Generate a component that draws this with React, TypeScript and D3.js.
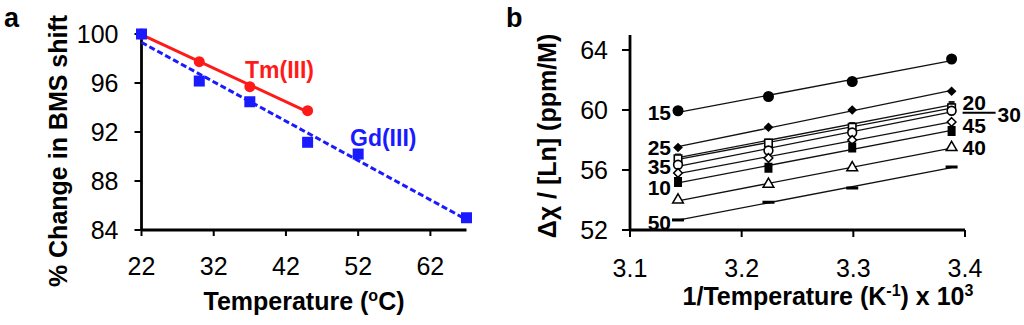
import * as d3 from 'd3'

// panel a: % change in BMS shift vs temperature
const tmTemps = [22, 30, 37, 45]
const tmShift = [100, 97.74, 95.7, 93.74]
const gdTemps = [22, 30, 37, 45, 52, 67]
const gdShift = [100, 96.16, 94.47, 91.16, 90.2, 85]
const aXTicks = [22, 32, 42, 52, 62]
const aYTicks = [84, 88, 92, 96, 100]

// panel b: dchi/[Ln] vs 1/T, one series per label
const invTemp = [3.143, 3.224, 3.299, 3.388]
const seriesLabels = ['15', '25', '20', '30', '35', '45', '10', '40', '50']
const seriesValues = [
  [59.95, 60.9, 61.9, 63.4],
  [57.5, 58.85, 60.0, 61.25],
  [56.9, 57.9, 59.0, 60.4],
  [56.75, 57.8, 58.85, 60.15],
  [56.35, 57.3, 58.5, 59.95],
  [55.8, 56.8, 58.0, 59.2],
  [55.2, 56.15, 57.5, 58.6],
  [54.0, 55.05, 56.15, 57.5],
  [52.67, 53.85, 54.8, 56.2],
]
const bXTicks = [3.1, 3.2, 3.3, 3.4]
const bYTicks = [52, 56, 60, 64]

// marker + label placement per series (style, not data)
const markerKind = ['circle', 'diamond', 'smallSquare', 'openSquare', 'openCircle', 'openDiamond', 'square', 'openTriangle', 'dash']
const labelSide = ['left', 'left', 'right', 'right', 'left', 'right', 'left', 'right', 'left']
const labelDx = [0, 0, 0, 35, 0, 0, 0, 0, 0]
const labelDy = [2, 0, -2, 7, 2, 3, 5, 0, 2]

const FONT = "'Liberation Sans', Arial, sans-serif"

function fit(xs: number[], ys: number[]) {
  const mx = d3.mean(xs)!
  const my = d3.mean(ys)!
  const sxy = d3.sum(xs, (x, i) => (x - mx) * (ys[i] - my))
  const sxx = d3.sum(xs, x => (x - mx) ** 2)
  const slope = sxy / sxx
  return (x: number) => my + slope * (x - mx)
}

const Marker = ({ kind, x, y }: { kind: string; x: number; y: number }) => {
  const t = `translate(${x},${y})`
  const sym = (type: d3.SymbolType, size: number) => d3.symbol().type(type).size(size)()!
  switch (kind) {
    case 'circle':
      return <path d={sym(d3.symbolCircle, 95)} transform={t} fill="#000" />
    case 'diamond':
      return <path d={sym(d3.symbolDiamond2, 60)} transform={t} fill="#000" />
    case 'smallSquare':
      return <path d={sym(d3.symbolSquare, 36)} transform={t} fill="#222" />
    case 'openSquare':
      return <path d={sym(d3.symbolSquare, 56)} transform={t} fill="#fff" stroke="#000" strokeWidth={1.6} />
    case 'openCircle':
      return <path d={sym(d3.symbolCircle, 60)} transform={t} fill="#fff" stroke="#000" strokeWidth={1.6} />
    case 'openDiamond':
      return <path d={sym(d3.symbolDiamond2, 48)} transform={t} fill="#fff" stroke="#000" strokeWidth={1.5} />
    case 'square':
      return <rect x={x - 4} y={y - 5} width={8} height={10} fill="#000" />
    case 'openTriangle':
      return <path d={sym(d3.symbolTriangle, 50)} transform={t} fill="#fff" stroke="#000" strokeWidth={1.5} />
    default:
      return <rect x={x - 6} y={y - 1.5} width={12} height={3} fill="#000" />
  }
}

const PanelA = () => {
  const x = d3.scaleLinear([22, 67], [141.5, 466.5])
  const y = d3.scaleLinear([84, 100], [230, 34])
  const [x0, x1] = x.range()
  const [yb, yt] = y.range()
  const tmFit = fit(tmTemps, tmShift)
  const gdFit = fit(gdTemps, gdShift)
  const line = d3.line<number>().x(d => x(d))
  const tmPath = line.y(d => y(tmFit(d)))([tmTemps[0], tmTemps[tmTemps.length - 1]])!
  const gdPath = line.y(d => y(gdFit(d)))([gdTemps[0], gdTemps[gdTemps.length - 1]])!

  return (
    <g fontFamily={FONT}>
      <text x={4} y={27} fontSize={27} fontWeight="bold">a</text>

      {/* axes */}
      <line x1={x0} x2={x0} y1={yt} y2={yb} stroke="#000" strokeWidth={2.8} />
      <line x1={x0} x2={x1} y1={yb} y2={yb} stroke="#000" strokeWidth={2.8} />
      {aYTicks.map(t => (
        <g key={t}>
          <line x1={x0 - 7} x2={x0} y1={y(t)} y2={y(t)} stroke="#000" strokeWidth={2} />
          <text x={x0 - 23} y={y(t)} dy="0.36em" textAnchor="end" fontSize={25}>{t}</text>
        </g>
      ))}
      {aXTicks.map(t => (
        <g key={t}>
          <line x1={x(t)} x2={x(t)} y1={yb} y2={yb + 6} stroke="#000" strokeWidth={2} />
          <text x={x(t)} y={275} textAnchor="middle" fontSize={25}>{t}</text>
        </g>
      ))}
      <text x={304} y={310} textAnchor="middle" fontSize={25} fontWeight="bold">
        Temperature (<tspan dy={-9} fontSize={16}>o</tspan><tspan dy={9}>C)</tspan>
      </text>
      <text transform="translate(67,151) rotate(-90)" textAnchor="middle" fontSize={25} fontWeight="bold">
        % Change in BMS shift
      </text>

      {/* Tm(III) */}
      <path d={tmPath} fill="none" stroke="#ff1a1a" strokeWidth={3} />
      {tmTemps.map((t, i) => (
        <circle key={t} cx={x(t)} cy={y(tmShift[i])} r={5.5} fill="#ff1a1a" />
      ))}
      {/* Gd(III) */}
      <path d={gdPath} fill="none" stroke="#1a1aff" strokeWidth={3} strokeDasharray="6,3" />
      {gdTemps.map((t, i) => (
        <rect key={t} x={x(t) - 5.5} y={y(gdShift[i]) - 5.5} width={11} height={11} fill="#1a1aff" />
      ))}
      <text x={245} y={78} fontSize={23} fontWeight="bold" fill="#ff1a1a">Tm(III)</text>
      <text x={350} y={146} fontSize={23} fontWeight="bold" fill="#1a1aff">Gd(III)</text>
    </g>
  )
}

const PanelB = () => {
  const x = d3.scaleLinear([3.1, 3.4], [630, 965])
  const y = d3.scaleLinear([52, 65], [230, 35])
  const [x0, x1] = x.range()
  const [yb, yt] = y.range()
  const first = invTemp[0]
  const last = invTemp[invTemp.length - 1]
  const s30 = seriesLabels.indexOf('30')
  const leaderY = y(seriesValues[s30][3]) + labelDy[s30] - 2

  return (
    <g fontFamily={FONT}>
      <text x={506} y={27} fontSize={27} fontWeight="bold">b</text>

      <line x1={x0} x2={x0} y1={yt} y2={yb} stroke="#000" strokeWidth={2.8} />
      <line x1={x0} x2={x1} y1={yb} y2={yb} stroke="#000" strokeWidth={2.8} />
      {bYTicks.map(t => (
        <g key={t}>
          <line x1={x0 - 8} x2={x0} y1={y(t)} y2={y(t)} stroke="#000" strokeWidth={2} />
          <text x={x0 - 22} y={y(t)} dy="0.36em" textAnchor="end" fontSize={25}>{t}</text>
        </g>
      ))}
      {bXTicks.map(t => (
        <g key={t}>
          <line x1={x(t)} x2={x(t)} y1={yb} y2={yb + 7} stroke="#000" strokeWidth={2} />
          <text x={x(t)} y={277} textAnchor="middle" fontSize={25}>{t.toFixed(1)}</text>
        </g>
      ))}
      <text x={828} y={305} textAnchor="middle" fontSize={25} fontWeight="bold">
        1/Temperature (K<tspan dy={-9} fontSize={16}>-1</tspan><tspan dy={9}>) x 10</tspan>
        <tspan dy={-9} fontSize={16}>3</tspan>
      </text>
      <text transform="translate(556,136) rotate(-90)" textAnchor="middle" fontSize={25} fontWeight="bold">
        Δχ / [Ln] (ppm/M)
      </text>

      {seriesValues.map((vals, s) => {
        const f = fit(invTemp, vals)
        const path = d3.line<number>().x(d => x(d)).y(d => y(f(d)))([first, last])!
        return <path key={s} d={path} fill="none" stroke="#111" strokeWidth={1.3} />
      })}
      {seriesValues.map((vals, s) =>
        vals.map((v, i) => <Marker key={`${s}-${i}`} kind={markerKind[s]} x={x(invTemp[i])} y={y(v)} />)
      )}
      {seriesLabels.map((lab, s) => {
        const vals = seriesValues[s]
        const left = labelSide[s] === 'left'
        const px = left ? x(first) - 7 : x(last) + 11 + labelDx[s]
        const py = y(left ? vals[0] : vals[vals.length - 1]) + labelDy[s]
        return (
          <text key={lab} x={px} y={py} dy="0.36em" textAnchor={left ? 'end' : 'start'} fontSize={21} fontWeight="bold">
            {lab}
          </text>
        )
      })}
      {/* leader under "20" pointing to the "30" label */}
      <line x1={x(last) + 11} x2={x(last) + 44} y1={leaderY} y2={leaderY} stroke="#000" strokeWidth={2} />
    </g>
  )
}

export default function App() {
  return (
    <svg width={1024} height={325} style={{ position: 'absolute', left: 0, top: 0, background: '#fff' }}>
      <PanelA />
      <PanelB />
    </svg>
  )
}
